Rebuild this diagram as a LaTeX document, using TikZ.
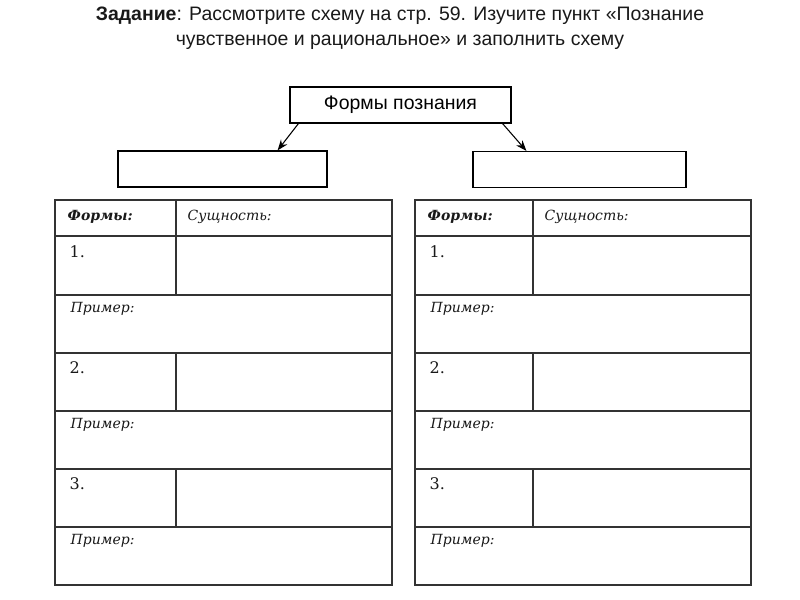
\documentclass[tikz,border=0pt]{standalone}
\usepackage{fontspec}
\setmainfont{Liberation Sans}
\newfontfamily\bookfont{DejaVu Serif}
\usepackage{tikz}
\usetikzlibrary{arrows.meta}

\begin{document}
\begin{tikzpicture}[x=0.75pt,y=-0.75pt]
	\useasboundingbox (0,0) rectangle (800,600);
	\node[align=center,text=black!90,font=\fontsize{14.6}{18.75}\selectfont] (title) at (400,28)
		{\textbf{Задание}: Рассмотрите схему на стр. 59. Изучите пункт «Познание\\
		чувственное и рациональное» и заполнить схему};
	\begin{scope}[every node/.style={rectangle,draw,line width=0.9pt,inner sep=0pt,minimum height=27pt}]
		\node[minimum width=165.75pt,font=\fontsize{14.6}{16}\selectfont] (forms) at (400.5,105) {Формы познания};
		\node[minimum width=156.75pt] (sens) at (222.5,169) {};
		\node[minimum width=159.75pt] (rat) at (579.5,169.5) {};
	\end{scope}

	\begin{scope}[>={Stealth[black,length=8pt,width=6pt]},line width=0.8pt]
		\draw[->] ([xshift=6.75pt]forms.south west) -- ([xshift=-37.5pt]sens.north east);
		\draw[->] ([xshift=-6.75pt]forms.south east) -- ([xshift=40.5pt]rat.north west);
	\end{scope}

	\begin{scope}[draw=black!80,line width=1.1pt,
	              every node/.style={anchor=base west,inner sep=0pt,text=black!90,font=\bookfont\fontsize{10.5}{12}\selectfont}]
		\foreach \l/\m/\r/\n in {55/176/392/L,415/533/751/R} {
			\draw (\l,200) rectangle (\r,585);
			\foreach \y in {236,295,353,411,469,527}
				\draw (\l,\y) -- (\r,\y);
			\foreach \a/\b in {200/295,353/411,469/527}
				\draw (\m,\a) -- (\m,\b);
			\node (kind\n) at (\l+12,220) {\itshape\bfseries Формы:};
			\node (gist\n) at (\m+11,220) {\itshape Сущность:};
			\foreach \k [evaluate=\k as \top using 236+(\k-1)*116.3] in {1,2,3} {
				\node[font=\bookfont\fontsize{12}{14}\selectfont] (num\k\n) at (\l+14,\top+21) {\k.};
				\node (ex\k\n) at (\l+15,\top+76) {\itshape Пример:};
			}
		}
	\end{scope}
\end{tikzpicture}
\end{document}
